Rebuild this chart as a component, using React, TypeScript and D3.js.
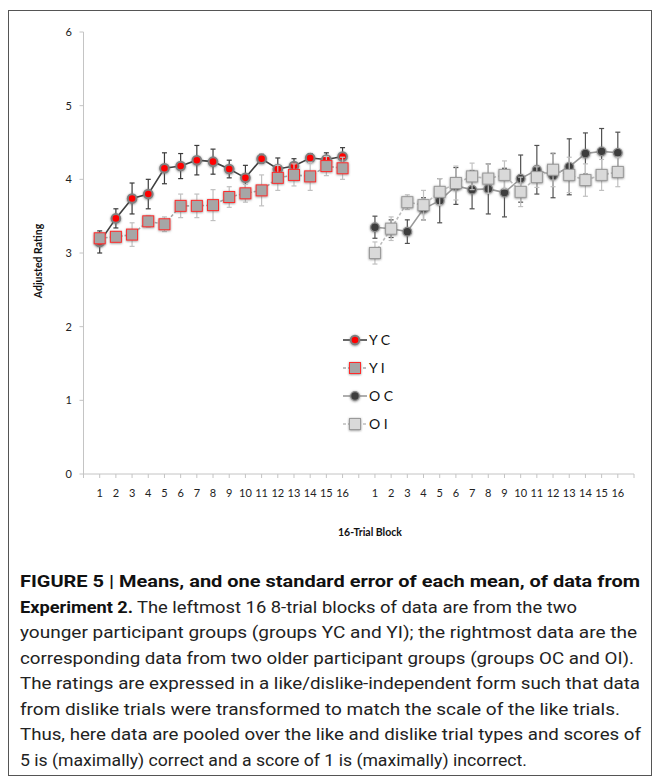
import React, { useEffect, useRef } from "react";
import * as d3 from "d3";

// block labels on the category axis (same for both age groups)
const blocks = ["1", "2", "3", "4", "5", "6", "7", "8", "9", "10", "11", "12", "13", "14", "15", "16"];
const yTicks = [0, 1, 2, 3, 4, 5, 6];

// younger groups
const ycMean = [3.15, 3.47, 3.74, 3.8, 4.15, 4.18, 4.26, 4.24, 4.14, 4.02, 4.28, 4.14, 4.18, 4.29, 4.27, 4.31];
const ycSe = [0.15, 0.13, 0.21, 0.2, 0.21, 0.17, 0.2, 0.17, 0.12, 0.17, 0.06, 0.15, 0.1, 0.06, 0.09, 0.12];
const yiMean = [3.2, 3.22, 3.25, 3.43, 3.39, 3.64, 3.64, 3.65, 3.76, 3.81, 3.85, 4.02, 4.06, 4.04, 4.18, 4.15];
const yiSe = [0.07, 0.07, 0.16, 0.08, 0.1, 0.16, 0.16, 0.21, 0.14, 0.12, 0.21, 0.17, 0.15, 0.19, 0.13, 0.15];

// older groups
const ocMean = [3.35, 3.33, 3.29, 3.6, 3.71, 3.91, 3.86, 3.87, 3.82, 4.01, 4.13, 4.05, 4.17, 4.35, 4.38, 4.36];
const ocSe = [0.15, 0.12, 0.16, 0.15, 0.3, 0.25, 0.26, 0.34, 0.33, 0.32, 0.33, 0.3, 0.38, 0.28, 0.31, 0.28];
const oiMean = [3.0, 3.33, 3.69, 3.65, 3.83, 3.95, 4.04, 4.01, 4.06, 3.83, 4.03, 4.13, 4.06, 3.99, 4.06, 4.1];
const oiSe = [0.15, 0.16, 0.1, 0.2, 0.18, 0.23, 0.18, 0.2, 0.19, 0.2, 0.14, 0.23, 0.24, 0.22, 0.21, 0.2];

const legendNames = ["Y C", "Y I", "O C", "O I"];

const captionLines = [
  "The leftmost 16 8-trial blocks of data are from the two",
  "younger participant groups (groups YC and YI); the rightmost data are the",
  "corresponding data from two older participant groups (groups OC and OI).",
  "The ratings are expressed in a like/dislike-independent form such that data",
  "from dislike trials were transformed to match the scale of the like trials.",
  "Thus, here data are pooled over the like and dislike trial types and scores of",
  "5 is (maximally) correct and a score of 1 is (maximally) incorrect.",
];
const captionWidths = [440, 617, 614, 620, 600, 621, 507];

const App = () => {
  const ref = useRef(null);

  useEffect(() => {
    const svg = d3.select(ref.current);
    svg.selectAll("*").remove();

    const font = "Lato, 'Open Sans', sans-serif";
    // 16 blocks, a blank slot, 16 blocks, with a blank slot at each end
    const x = d3.scaleLinear().domain([0, 34]).range([83.5, 634]);
    const y = d3.scaleLinear().domain([0, 6]).range([474, 32]);

    const defs = svg.append("defs");
    const glow = defs.append("filter").attr("id", "glow").attr("x", "-50%").attr("y", "-50%").attr("width", "200%").attr("height", "200%");
    glow.append("feDropShadow").attr("dx", 0).attr("dy", 0.6).attr("stdDeviation", 1).attr("flood-color", "#666").attr("flood-opacity", 0.8);

    // outer frame
    svg.append("rect").attr("x", 8.5).attr("y", 10.5).attr("width", 643).attr("height", 765)
      .attr("fill", "none").attr("stroke", "#555");

    // y axis
    svg.append("line").attr("x1", x(0)).attr("x2", x(0)).attr("y1", y(0)).attr("y2", y(6))
      .attr("stroke", "#c4c4c4");
    yTicks.forEach((t) => {
      svg.append("line").attr("x1", x(0) - 4).attr("x2", x(0)).attr("y1", y(t)).attr("y2", y(t))
        .attr("stroke", "#c4c4c4");
      svg.append("text").attr("x", 72).attr("y", y(t)).attr("dy", "0.35em").attr("text-anchor", "end")
        .attr("font-family", font).attr("font-size", 11).attr("fill", "#222").text(t);
    });
    svg.append("text").attr("transform", "translate(42,261) rotate(-90)").attr("text-anchor", "middle")
      .attr("font-family", font).attr("font-weight", "bold").attr("font-size", 10.5).attr("fill", "#111")
      .text("Adjusted Rating");

    // x axis
    svg.append("line").attr("x1", x(0)).attr("x2", x(34)).attr("y1", y(0)).attr("y2", y(0))
      .attr("stroke", "#c4c4c4");
    d3.range(35).forEach((i) => {
      svg.append("line").attr("x1", x(i)).attr("x2", x(i)).attr("y1", y(0)).attr("y2", y(0) + 4)
        .attr("stroke", "#c4c4c4");
    });
    const labelled = blocks.map((b, i) => ({ b, i: i + 1 })).concat(blocks.map((b, i) => ({ b, i: i + 18 })));
    labelled.forEach((d) => {
      svg.append("text").attr("x", x(d.i)).attr("y", 493).attr("dy", "0.35em").attr("text-anchor", "middle")
        .attr("font-family", font).attr("font-size", 11).attr("fill", "#222").text(d.b);
    });
    svg.append("text").attr("x", 370).attr("y", 532).attr("dy", "0.35em").attr("text-anchor", "middle")
      .attr("font-family", font).attr("font-weight", "bold").attr("font-size", 10.5).attr("fill", "#111")
      .text("16-Trial Block");

    const series = [
      { mean: ycMean, se: ycSe, off: 1, line: "#404040", dash: null, err: "#3a3a3a", shape: "circle", fill: "#ff0000", stroke: "#808080", sw: 2 },
      { mean: yiMean, se: yiSe, off: 1, line: "#a6a6a6", dash: "3,2", err: "#c0c0c0", shape: "square", fill: "#a6a6a6", stroke: "#ff2a2a", sw: 1 },
      { mean: ocMean, se: ocSe, off: 18, line: "#9a9a9a", dash: null, err: "#505050", shape: "circle", fill: "#3c3c3c", stroke: "#8c8c8c", sw: 1.2 },
      { mean: oiMean, se: oiSe, off: 18, line: "#bdbdbd", dash: "3,2", err: "#c0c0c0", shape: "square", fill: "#d9d9d9", stroke: "#9a9a9a", sw: 1 },
    ];

    const marker = (g, s, cx, cy) => {
      if (s.shape === "circle") {
        g.append("circle").attr("cx", cx).attr("cy", cy).attr("r", 4.3).attr("fill", s.fill)
          .attr("stroke", s.stroke).attr("stroke-width", s.sw).attr("filter", "url(#glow)");
      } else {
        g.append("rect").attr("x", cx - 5.5).attr("y", cy - 5.5).attr("width", 11).attr("height", 11)
          .attr("fill", s.fill).attr("stroke", s.stroke).attr("stroke-width", s.sw).attr("filter", "url(#glow)");
      }
    };

    series.forEach((s) => {
      const g = svg.append("g");
      const pts = s.mean.map((m, i) => ({ i: i + s.off, m, e: s.se[i] }));
      // error bars
      pts.forEach((p) => {
        g.append("line").attr("x1", x(p.i)).attr("x2", x(p.i)).attr("y1", y(p.m - p.e)).attr("y2", y(p.m + p.e))
          .attr("stroke", s.err).attr("stroke-width", 1.2);
        [p.m - p.e, p.m + p.e].forEach((v) => {
          g.append("line").attr("x1", x(p.i) - 2.5).attr("x2", x(p.i) + 2.5).attr("y1", y(v)).attr("y2", y(v))
            .attr("stroke", s.err).attr("stroke-width", 1.2);
        });
      });
      const line = d3.line().x((p) => x(p.i)).y((p) => y(p.m));
      g.append("path").attr("d", line(pts)).attr("fill", "none").attr("stroke", s.line)
        .attr("stroke-width", 1.6).attr("stroke-dasharray", s.dash);
      pts.forEach((p) => marker(g, s, x(p.i), y(p.m)));
    });

    // legend
    const lg = svg.append("g");
    series.forEach((s, k) => {
      const ly = 340 + k * 28;
      lg.append("line").attr("x1", 343).attr("x2", 367).attr("y1", ly).attr("y2", ly)
        .attr("stroke", s.line).attr("stroke-width", 1.6).attr("stroke-dasharray", s.dash);
      marker(lg, s, 355, ly);
      lg.append("text").attr("x", 369).attr("y", ly).attr("dy", "0.36em").attr("font-family", font)
        .attr("font-size", 14).attr("fill", "#111").text(legendNames[k]);
    });

    // caption
    const cfont = "'Liberation Sans Narrow', 'Roboto', 'Liberation Sans', sans-serif";
    svg.append("text").attr("x", 20).attr("y", 587).attr("font-family", cfont).attr("font-size", 16)
      .attr("font-weight", "bold").attr("fill", "#111").attr("textLength", 620).attr("lengthAdjust", "spacingAndGlyphs")
      .text("FIGURE 5 | Means, and one standard error of each mean, of data from");
    svg.append("text").attr("x", 20).attr("y", 612.5).attr("font-family", cfont).attr("font-size", 16)
      .attr("font-weight", "bold").attr("fill", "#111").attr("textLength", 113).attr("lengthAdjust", "spacingAndGlyphs")
      .text("Experiment 2.");
    captionLines.forEach((t, k) => {
      svg.append("text").attr("x", k === 0 ? 137 : 20).attr("y", 612.5 + k * 25.5).attr("font-family", cfont)
        .attr("font-size", 16).attr("fill", "#222").attr("textLength", captionWidths[k])
        .attr("lengthAdjust", "spacingAndGlyphs").text(t);
    });
  }, []);

  return <svg ref={ref} width={660} height={783} style={{ position: "absolute", left: 0, top: 0, background: "#fff" }} />;
};

export default App;
